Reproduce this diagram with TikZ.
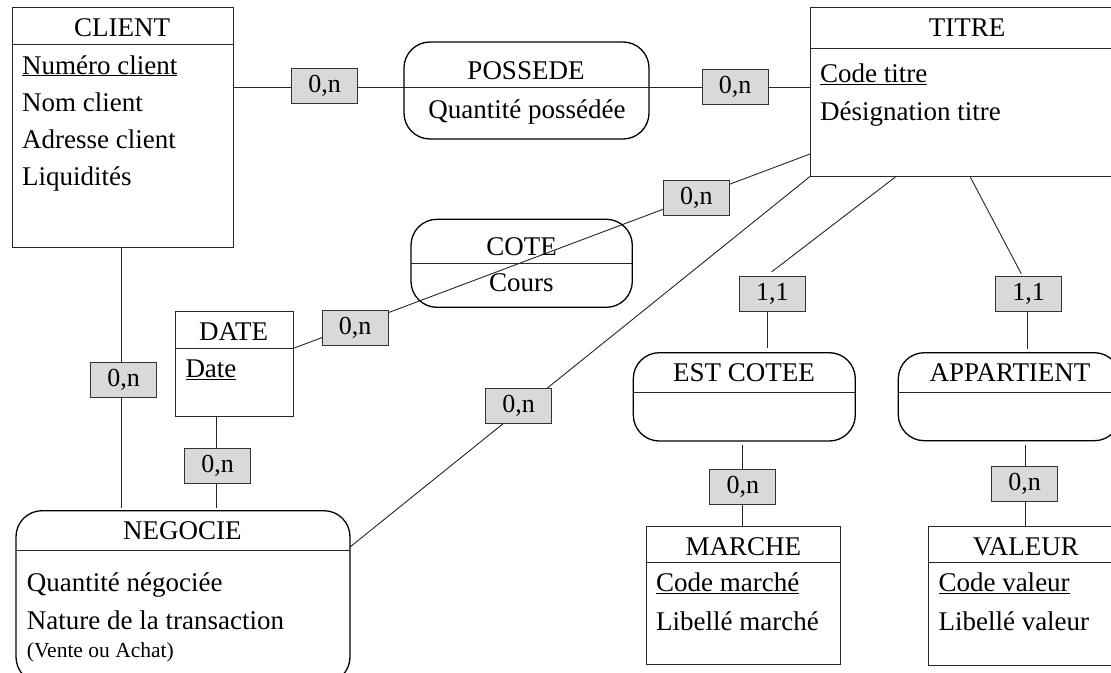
\documentclass[tikz,border=0pt]{standalone}
\usepackage{fontspec}
\setmainfont{Liberation Serif}
\usetikzlibrary{calc}
\pgfdeclarelayer{links}
\pgfsetlayers{links,main}
\begin{document}
\begin{tikzpicture}[x=1pt,y=-1pt,
  entity/.style={draw=black!85, line width=1pt, rectangle, inner sep=0pt, outer sep=0pt},
  relation/.style={draw=black, line width=1.3pt, rectangle, rounded corners=26pt, inner sep=0pt, outer sep=0pt},
  sep/.style={draw=black!85, line width=1pt},
  link/.style={draw=black!85, line width=0.9pt},
  card/.style={draw=black!80, fill=black!15, line width=1pt, minimum width=66pt, minimum height=35pt,
               inner sep=0pt, outer sep=0pt, font=\fontsize{26}{30}\selectfont},
  head/.style={anchor=base, inner sep=0pt, font=\fontsize{27}{32}\selectfont},
  attr/.style={anchor=base west, inner sep=0pt, font=\fontsize{27}{32}\selectfont},
  note/.style={anchor=base west, inner sep=0pt, font=\fontsize{21.5}{26}\selectfont}]

\useasboundingbox (0,0) rectangle (1111,672);

% ---- entities ----
\node[entity, minimum width=221pt, minimum height=240pt]   (client) at (122.5,127) {};
\node[entity, minimum width=314pt, minimum height=169.5pt] (titre)  at (967,91.75) {};
\node[entity, minimum width=117.7pt, minimum height=104.3pt] (date) at (234.15,363.85) {};
\node[entity, minimum width=194pt, minimum height=137.3pt] (marche) at (743,595.35) {};
\node[entity, minimum width=194pt, minimum height=138.3pt] (valeur) at (1025.3,595.85) {};

\draw[sep] (client.west |- 0,44) -- (client.east |- 0,44);
\draw[sep] (titre.west |- 0,48) -- (titre.east |- 0,48);
\draw[sep] (date.west |- 0,348) -- (date.east |- 0,348);
\draw[sep] (marche.west |- 0,562.3) -- (marche.east |- 0,562.3);
\draw[sep] (valeur.west |- 0,562.3) -- (valeur.east |- 0,562.3);

% ---- relations ----
\node[relation, minimum width=245pt, minimum height=97pt]    (possede)    at (526.5,90.5) {};
\node[relation, minimum width=221.3pt, minimum height=88pt]  (cote)       at (521.65,263.3) {};
\node[relation, minimum width=222pt, minimum height=88.3pt]  (estcotee)   at (744.3,396.85) {};
\node[relation, minimum width=222pt, minimum height=88pt]    (appartient) at (1009.3,396.7) {};
\node[relation, minimum width=334pt, minimum height=172.3pt] (negocie)    at (183,596.85) {};

\draw[sep] (possede.west |- 0,87) -- (possede.east |- 0,87);
\draw[sep] (cote.west |- 0,263.7) -- (cote.east |- 0,263.7);
\draw[sep] (estcotee.west |- 0,392.3) -- (estcotee.east |- 0,392.3);
\draw[sep] (appartient.west |- 0,392) -- (appartient.east |- 0,392);
\draw[sep] (negocie.west |- 0,550.7) -- (negocie.east |- 0,550.7);

% ---- titles and attributes ----
\node[head] (h-client) at (122,36) {CLIENT};
\node[attr] (a-client1) at (22,74) {\underline{Numéro client}};
\node[attr] (a-client2) at (22,111) {Nom client};
\node[attr] (a-client3) at (22,148) {Adresse client};
\node[attr] (a-client4) at (22,185) {Liquidités};

\node[head] (h-titre) at (967,36) {TITRE};
\node[attr] (a-titre1) at (820,82.5) {\underline{Code titre}};
\node[attr] (a-titre2) at (820,120) {Désignation titre};

\node[head] (h-date) at (233.7,340) {DATE};
\node[attr] (a-date1) at (185.3,377.3) {\underline{Date}};

\node[head] (h-marche) at (743.3,555) {MARCHE};
\node[attr] (a-marche1) at (656,591.7) {\underline{Code marché}};
\node[attr] (a-marche2) at (656,630) {Libellé marché};

\node[head] (h-valeur) at (1025.8,555) {VALEUR};
\node[attr] (a-valeur1) at (938.3,591.7) {\underline{Code valeur}};
\node[attr] (a-valeur2) at (938.3,630) {Libellé valeur};

\node[head] (h-possede) at (526,79.3) {POSSEDE};
\node[head] (a-possede) at (527,118.3) {Quantité possédée};

\node[head] (h-cote) at (521.7,255) {COTE};
\node[head] (a-cote) at (521.3,291) {Cours};

\node[head] (h-estcotee) at (744,381.7) {EST COTEE};
\node[head] (h-appartient) at (1010,381.7) {APPARTIENT};

\node[head] (h-negocie) at (182.3,539.3) {NEGOCIE};
\node[attr] (a-negocie1) at (26.7,591.7) {Quantité négociée};
\node[attr] (a-negocie2) at (26.7,629.3) {Nature de la transaction};
\node[note] (a-negocie3) at (26.7,657.7) {(Vente ou Achat)};

% ---- cardinalities ----
\node[card] (c1)  at (324.5,85.8)  {0,n};
\node[card] (c2)  at (735,86.8)    {0,n};
\node[card] (c3)  at (123.7,380.2) {0,n};
\node[card] (c4)  at (217.5,466.2) {0,n};
\node[card] (c5)  at (355,328)     {0,n};
\node[card] (c6)  at (696.3,197.6) {0,n};
\node[card] (c7)  at (518.5,405.8) {0,n};
\node[card] (c8)  at (772.3,294.3) {1,1};
\node[card] (c9)  at (1028.7,294)  {1,1};
\node[card] (c10) at (742.8,486.7) {0,n};
\node[card] (c11) at (1024.7,484.2) {0,n};

% ---- links (under the cardinality boxes) ----
\begin{pgfonlayer}{links}
\draw[link] (client.east |- 0,87) -- (possede.west |- 0,87);
\draw[link] (possede.east |- 0,87) -- (titre.west |- 0,87);
\draw[link] (client.south -| 121,0) -- ($(negocie.north -| 121,0)+(0,-2.4)$);
\draw[link] (date.south -| 216,0) -- ($(negocie.north -| 216,0)+(0,-2.4)$);
\draw[link] (date.east |- 0,348.5) -- (titre.west |- 0,154);
\draw[link] (negocie.east |- 0,547) -- (titre.south west);
\draw[link] (titre.south -| 896,0) -- ($(c8.north)+(-0.6,-5)$);
\draw[link] (c8.south -| 767,0) -- ($(estcotee.north -| 767,0)+(0,-4.4)$);
\draw[link] (titre.south -| 970,0) -- ($(c9.north)+(-7.4,-2.7)$);
\draw[link] (c9.south -| 1027,0) -- ($(appartient.north -| 1027,0)+(0,-3.4)$);
\draw[link] ($(estcotee.south -| 742.7,0)+(0,4)$) -- (marche.north -| 742.7,0);
\draw[link] ($(appartient.south -| 1025,0)+(0,4.3)$) -- (valeur.north -| 1025,0);
\end{pgfonlayer}
\end{tikzpicture}
\end{document}
